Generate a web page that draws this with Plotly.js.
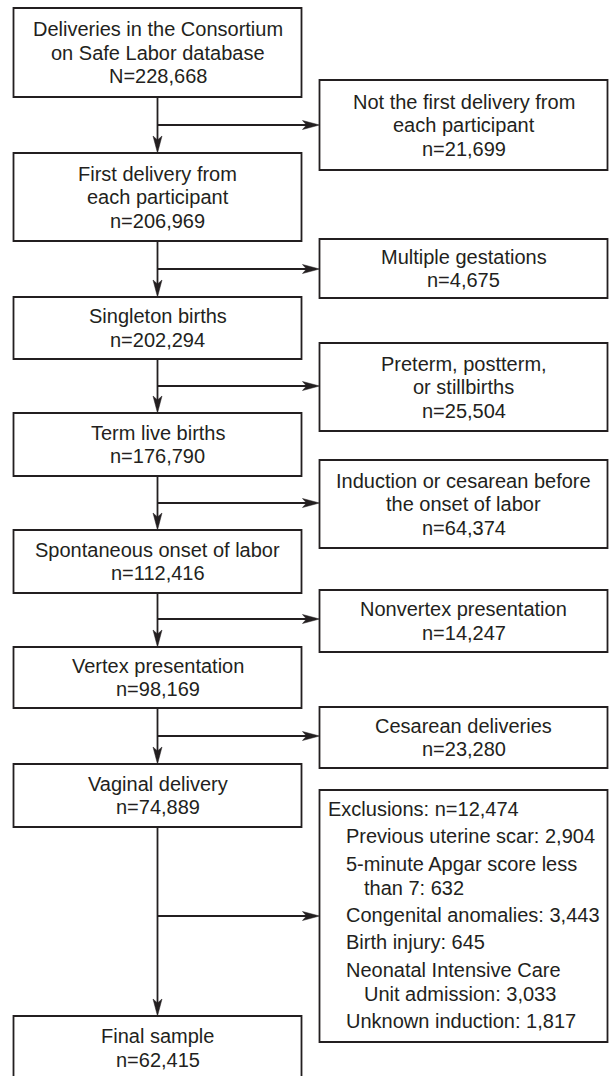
<!DOCTYPE html>
<html>
<head>
<meta charset="utf-8">
<script src="https://cdn.plot.ly/plotly-3.0.1.min.js"></script>
<style>html,body{margin:0;padding:0;background:#fff;}#chart{width:611px;height:1076px;}</style>
</head>
<body>
<div id="chart"></div>
<script>
// ---- DATA ----
const mainLabels = [
  "Deliveries in the Consortium<br>on Safe Labor database",
  "First delivery from<br>each participant",
  "Singleton births",
  "Term live births",
  "Spontaneous onset of labor",
  "Vertex presentation",
  "Vaginal delivery",
  "Final sample"
];
const mainCounts = [228668, 206969, 202294, 176790, 112416, 98169, 74889, 62415];
const excludedLabels = [
  "Not the first delivery from<br>each participant",
  "Multiple gestations",
  "Preterm, postterm,<br>or stillbirths",
  "Induction or cesarean before<br>the onset of labor",
  "Nonvertex presentation",
  "Cesarean deliveries"
];
const excludedCounts = [21699, 4675, 25504, 64374, 14247, 23280];
const exclusionsTotal = 12474;
const exclusionReasons = [
  "Previous uterine scar",
  "5-minute Apgar score less<br>than 7",
  "Congenital anomalies",
  "Birth injury",
  "Neonatal Intensive Care<br>Unit admission",
  "Unknown induction"
];
const exclusionReasonCounts = [2904, 632, 3443, 645, 3033, 1817];

// ---- GEOMETRY (layout only) ----
const W = 611, H = 1076;
const mainX0 = 13.5, mainX1 = 301.5, mainCx = 157.5;
const mainTop = [8, 153, 297, 413, 530, 647, 764, 1016];
const mainBottom = [97, 241, 359, 476, 593, 708, 827, 1085];
const sideX0 = 319.5, sideX1 = 607.5, sideCx = 463.5;
const sideTop = [80, 239, 343, 460, 590, 707, 790];
const sideBottom = [170, 298, 431, 548, 652, 768, 1042];
const arrowY = [125, 269, 386, 503, 619, 736, 916];
const lineH = 23.5;
const FONT = {family: "Liberation Sans, Arial, sans-serif", size: 20, color: "#231f20"};
const INK = "#231f20";
const LW = 1.8;

const fmt = v => v.toLocaleString("en-US");
const shapes = [];
const annotations = [];

function rect(x0, y0, x1, y1) {
  shapes.push({type: "rect", xref: "x", yref: "y", x0, y0, x1, y1,
    line: {color: INK, width: LW}, fillcolor: "rgba(0,0,0,0)"});
}
function seg(x0, y0, x1, y1) {
  shapes.push({type: "line", xref: "x", yref: "y", x0, y0, x1, y1,
    line: {color: INK, width: LW}});
}
function headDown(x, y) {
  shapes.push({type: "path", xref: "x", yref: "y",
    path: `M ${x} ${y} L ${x - 4.5} ${y - 17} L ${x} ${y - 13} L ${x + 4.5} ${y - 17} Z`,
    line: {color: INK, width: 0.5}, fillcolor: INK});
}
function headRight(x, y) {
  shapes.push({type: "path", xref: "x", yref: "y",
    path: `M ${x} ${y} L ${x - 17} ${y - 4.5} L ${x - 13} ${y} L ${x - 17} ${y + 4.5} Z`,
    line: {color: INK, width: 0.5}, fillcolor: INK});
}
function centeredLines(lines, cx, cy) {
  const n = lines.length;
  lines.forEach((t, i) => {
    annotations.push({xref: "x", yref: "y", x: cx, y: cy + (i - (n - 1) / 2) * lineH,
      text: t, showarrow: false, xanchor: "center", yanchor: "middle", font: FONT});
  });
}

// main boxes
mainLabels.forEach((lab, i) => {
  rect(mainX0, mainTop[i], mainX1, mainBottom[i]);
  const lines = lab.split("<br>");
  lines.push((i === 0 ? "N=" : "n=") + fmt(mainCounts[i]));
  const bottomVis = Math.min(mainBottom[i], 1080);
  centeredLines(lines, mainCx, (mainTop[i] + bottomVis) / 2);
});
// side boxes
excludedLabels.forEach((lab, i) => {
  rect(sideX0, sideTop[i], sideX1, sideBottom[i]);
  const lines = lab.split("<br>");
  lines.push("n=" + fmt(excludedCounts[i]));
  centeredLines(lines, sideCx, (sideTop[i] + sideBottom[i]) / 2);
});
// exclusions box
const exIdx = 6;
rect(sideX0, sideTop[exIdx], sideX1, sideBottom[exIdx]);
let yy = 809;
annotations.push({xref: "x", yref: "y", x: 326, y: yy, text: "Exclusions: n=" + fmt(exclusionsTotal),
  showarrow: false, xanchor: "left", yanchor: "middle", font: FONT});
exclusionReasons.forEach((lab, i) => {
  const parts = lab.split("<br>");
  parts[parts.length - 1] += ": " + fmt(exclusionReasonCounts[i]);
  parts.forEach((p, j) => {
    yy += (j === 0) ? 27.3 : 24;
    annotations.push({xref: "x", yref: "y", x: j === 0 ? 344 : 362, y: yy, text: p,
      showarrow: false, xanchor: "left", yanchor: "middle", font: FONT});
  });
});

// connectors
for (let i = 0; i < mainLabels.length - 1; i++) {
  seg(mainCx, mainBottom[i], mainCx, mainTop[i + 1] - 10);
  headDown(mainCx, mainTop[i + 1]);
  seg(mainCx, arrowY[i], sideX0 - 10, arrowY[i]);
  headRight(sideX0, arrowY[i]);
}

const layout = {
  width: W, height: H,
  margin: {l: 0, r: 0, t: 0, b: 0, pad: 0},
  paper_bgcolor: "#ffffff", plot_bgcolor: "#ffffff",
  xaxis: {range: [0, W], visible: false, fixedrange: true},
  yaxis: {range: [H, 0], visible: false, fixedrange: true},
  showlegend: false,
  shapes, annotations
};
Plotly.newPlot("chart", [{x: [], y: [], type: "scatter", mode: "markers", hoverinfo: "skip"}], layout,
  {displayModeBar: false, staticPlot: true});
</script>
</body>
</html>
